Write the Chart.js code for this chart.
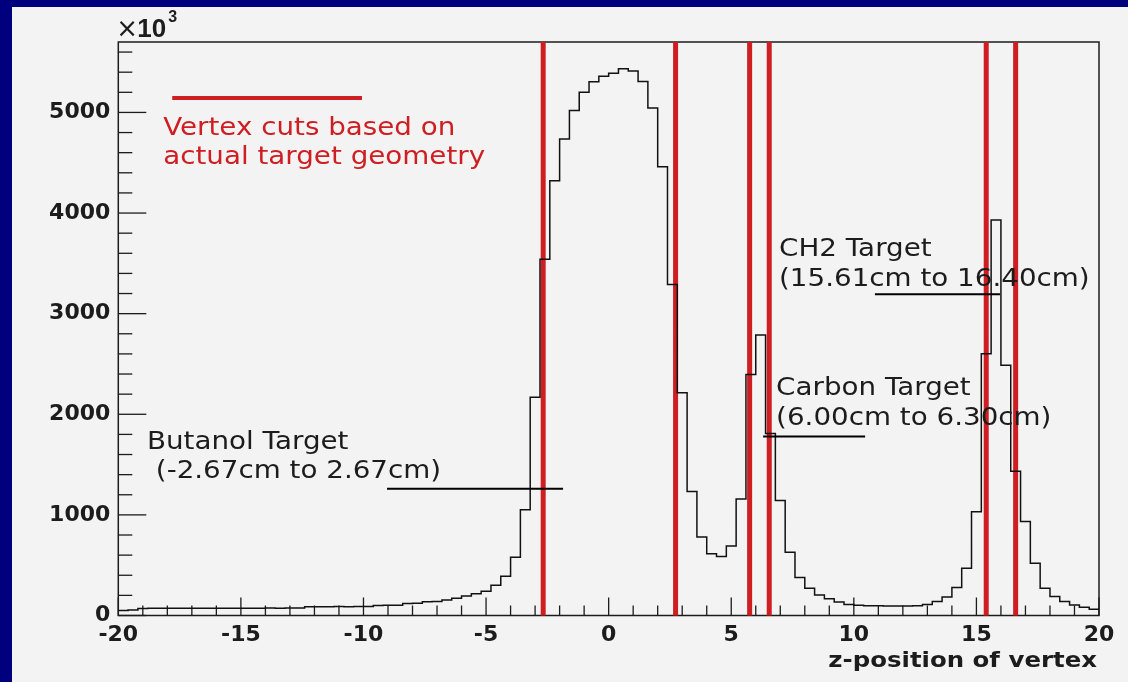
<!DOCTYPE html>
<html>
<head>
<meta charset="utf-8">
<title>z-position of vertex</title>
<script src="https://cdn.jsdelivr.net/npm/chart.js@4.4.1/dist/chart.umd.min.js"></script>
<style>
  html, body { margin: 0; padding: 0; background: #00007f; }
  #wrap { width: 1128px; height: 682px; }
</style>
</head>
<body>
<div id="wrap"><canvas id="vertexChart" width="1128" height="682"></canvas></div>
<script>
// histogram: 100 bins of 0.4 cm from -20 to 20, counts in units of 10^3
const zMin = -20;
const zMax = 20;
const binWidth = 0.4;
const counts = [
    50, 55, 70, 72, 72, 72, 72, 73, 72, 72,
    73, 72, 73, 73, 72, 74, 73, 74, 75, 86,
    88, 88, 89, 88, 90, 90, 100, 101, 103, 120,
    122, 137, 140, 154, 171, 194, 215, 240, 300, 390,
    580, 1050, 2170, 3540, 4320, 4735, 5020, 5200, 5305, 5360,
    5390, 5433, 5413, 5307, 5045, 4460, 3290, 2215, 1233, 779,
    613, 586, 692, 1157, 2395, 2787, 1808, 1144, 629, 377,
    271, 204, 166, 133, 110, 102, 98, 96, 95, 95,
    95, 97, 110, 138, 185, 278, 470, 1032, 2601, 3932,
    2488, 1433, 934, 520, 271, 188, 138, 105, 81, 61
];

// vertex cut positions (cm)
const cutPositions = [-2.67, 2.73, 5.75, 6.55, 15.4, 16.6];

const xTickValues = [-20, -15, -10, -5, 0, 5, 10, 15, 20];
const yTickValues = [0, 1000, 2000, 3000, 4000, 5000];
const yMax = 5700;

const cutNote = ['Vertex cuts based on', 'actual target geometry'];
const targetNames = ['Butanol Target', 'Carbon Target', 'CH2 Target'];
const targetRanges = [' (-2.67cm to 2.67cm)', '(6.00cm to 6.30cm)', '(15.61cm to 16.40cm)'];
const xTitle = 'z-position of vertex';

const RED = 'rgb(206, 30, 34)';
const INK = '#1c1c1c';

// step points at the left edge of each bin, plus the closing edge
const histPoints = counts.map((c, i) => ({ x: zMin + i * binWidth, y: c }));
histPoints.push({ x: zMax, y: counts[counts.length - 1] });

const cutSets = cutPositions.map(z => ({
    data: [{ x: z, y: 0 }, { x: z, y: yMax }],
    borderColor: RED,
    borderWidth: 5,
    borderCapStyle: 'butt',
    pointRadius: 0,
    clip: false
}));

function drawText(ctx, text, x, y, font, color, align) {
    ctx.save();
    ctx.translate(x, y);
    ctx.scale(1.11, 1);
    ctx.font = font;
    ctx.fillStyle = color;
    ctx.textAlign = align || 'left';
    ctx.textBaseline = 'middle';
    ctx.fillText(text, 0, 0);
    ctx.restore();
}

function line(ctx, x1, y1, x2, y2) {
    ctx.beginPath();
    ctx.moveTo(x1, y1);
    ctx.lineTo(x2, y2);
    ctx.stroke();
}

const framePlugin = {
    id: 'rootFrame',
    beforeDraw(chart) {
        const ctx = chart.ctx;
        ctx.save();
        ctx.fillStyle = '#00007f';
        ctx.fillRect(0, 0, chart.width, chart.height);
        ctx.fillStyle = '#f3f3f3';
        ctx.fillRect(12, 7, chart.width - 12, chart.height - 7);
        ctx.restore();
    },
    beforeDatasetsDraw(chart) {
        const ctx = chart.ctx;
        const a = chart.chartArea;
        const xs = chart.scales.x;
        const ys = chart.scales.y;
        ctx.save();
        ctx.strokeStyle = INK;
        ctx.lineWidth = 1.5;
        ctx.strokeRect(a.left, a.top, a.right - a.left, a.bottom - a.top);
        ctx.lineWidth = 1.3;
        // ticks point into the frame
        for (let v = zMin; v <= zMax; v += 1) {
            const px = xs.getPixelForValue(v);
            line(ctx, px, a.bottom, px, a.bottom - (v % 5 === 0 ? 18 : 10));
        }
        for (let v = 0; v <= yMax; v += 200) {
            const py = ys.getPixelForValue(v);
            line(ctx, a.left, py, a.left + (v % 1000 === 0 ? 28 : 14), py);
        }
        ctx.restore();
    },
    afterDatasetsDraw(chart) {
        const ctx = chart.ctx;
        const a = chart.chartArea;
        const xs = chart.scales.x;
        const ys = chart.scales.y;
        const X = v => xs.getPixelForValue(v);
        const Y = v => ys.getPixelForValue(v);
        const note = '25px "DejaVu Sans"';

        // multiplier above the y axis
        ctx.save();
        ctx.fillStyle = INK;
        ctx.textBaseline = 'middle';
        ctx.font = '26px "DejaVu Sans"';
        ctx.fillText('\u00d7', a.left - 2, a.top - 12);
        ctx.font = 'bold 26px "Liberation Sans"';
        ctx.fillText('10', a.left + 19, a.top - 12);
        ctx.font = 'bold 16px "Liberation Sans"';
        ctx.fillText('3', a.left + 50, a.top - 24);
        ctx.restore();

        // cut legend
        ctx.save();
        ctx.strokeStyle = RED;
        ctx.lineWidth = 4;
        line(ctx, X(-17.8), Y(5144), X(-10.06), Y(5144));
        ctx.restore();
        drawText(ctx, cutNote[0], X(-18.17), Y(4836), note, RED);
        drawText(ctx, cutNote[1], X(-18.17), Y(4557), note, RED);

        // target labels with leader lines
        const labels = [
            { x: -18.83, y1: 1718, y2: 1429, lx1: -9.04, lx2: -1.86, ly: 1260 },
            { x: 6.83, y1: 2256, y2: 1957, lx1: 6.3, lx2: 10.46, ly: 1778 },
            { x: 6.95, y1: 3640, y2: 3342, lx1: 10.86, lx2: 15.96, ly: 3192 }
        ];
        labels.forEach((l, i) => {
            drawText(ctx, targetNames[i], X(l.x), Y(l.y1), note, INK);
            drawText(ctx, targetRanges[i], X(l.x), Y(l.y2), note, INK);
            ctx.save();
            ctx.strokeStyle = '#000';
            ctx.lineWidth = 2;
            line(ctx, X(l.lx1), Y(l.ly), X(l.lx2), Y(l.ly));
            ctx.restore();
        });

        drawText(ctx, xTitle, a.right - 2, a.bottom + 46, 'bold 22px "DejaVu Sans"', INK, 'right');
    }
};

new Chart(document.getElementById('vertexChart'), {
    type: 'line',
    data: {
        datasets: [{
            data: histPoints,
            stepped: 'before',
            borderColor: '#111',
            borderWidth: 1.5,
            pointRadius: 0,
            fill: false
        }].concat(cutSets)
    },
    options: {
        responsive: false,
        devicePixelRatio: 1,
        animation: false,
        events: [],
        layout: { padding: { left: 0, top: 42, right: 29, bottom: 0 } },
        plugins: { legend: { display: false }, tooltip: { enabled: false } },
        scales: {
            x: {
                type: 'linear',
                min: zMin,
                max: zMax,
                grid: { display: false, drawTicks: false },
                border: { display: false },
                afterBuildTicks: s => { s.ticks = xTickValues.map(v => ({ value: v })); },
                afterFit: s => { s.height = 66.5; },
                ticks: {
                    padding: 7,
                    color: INK,
                    maxRotation: 0,
                    autoSkip: false,
                    font: { family: 'DejaVu Sans', size: 22, weight: 'bold' },
                    callback: v => String(v)
                }
            },
            y: {
                type: 'linear',
                min: 0,
                max: yMax,
                grid: { display: false, drawTicks: false },
                border: { display: false },
                afterBuildTicks: s => { s.ticks = yTickValues.map(v => ({ value: v })); },
                afterFit: s => { s.width = 118.3; },
                ticks: {
                    padding: 8,
                    color: INK,
                    font: { family: 'DejaVu Sans', size: 22, weight: 'bold' },
                    callback: v => String(v)
                }
            }
        }
    },
    plugins: [framePlugin]
});
</script>
</body>
</html>
